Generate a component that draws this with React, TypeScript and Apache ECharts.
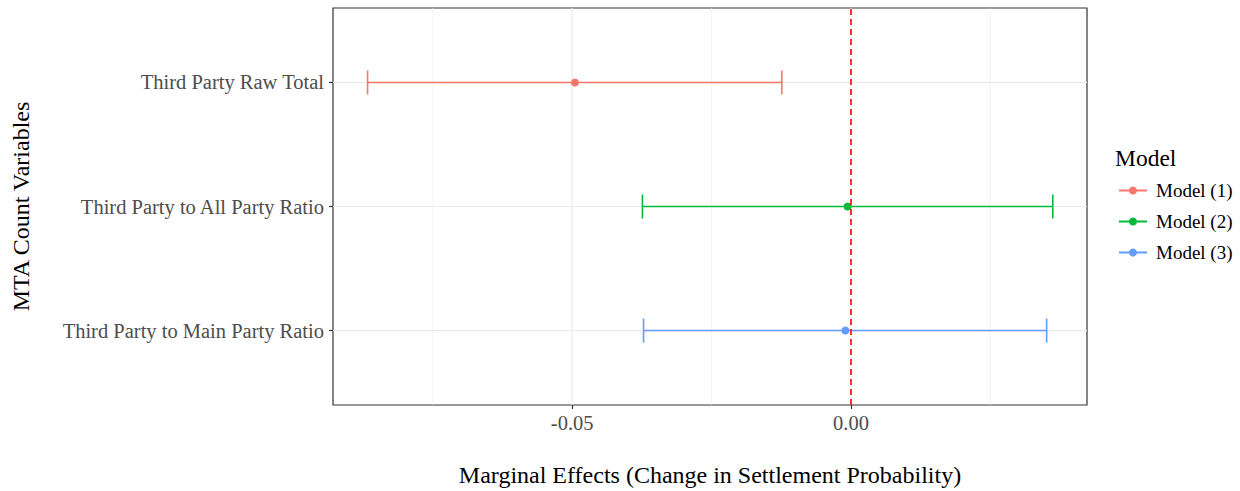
import React, { useEffect, useRef } from "react";
import * as echarts from "echarts";

const categories = [
  "Third Party to Main Party Ratio",
  "Third Party to All Party Ratio",
  "Third Party Raw Total",
];
const models = ["Model (1)", "Model (2)", "Model (3)"];
const modelRow = [3, 2, 1];
const estimates = [-0.0495, -0.0006, -0.001];
const lower = [-0.0867, -0.0374, -0.0372];
const upper = [-0.0124, 0.0362, 0.0351];
const colors = ["#F8766D", "#00BA38", "#619CFF"];
const xMajorTicks = [-0.05, 0];
const xMinorTicks = [-0.075, -0.025, 0.025];
const yTicks = [1, 2, 3];

const FONT = "'Liberation Serif', 'Times New Roman', serif";

export default function App() {
  const ref = useRef<HTMLDivElement>(null);
  useEffect(() => {
    document.body.style.margin = "0";
    const chart = echarts.init(ref.current!, null, { renderer: "svg" });

    const gridData: number[][] = [
      ...xMinorTicks.map((v) => [0, v, 0]),
      ...xMajorTicks.map((v) => [0, v, 1]),
      ...yTicks.map((v) => [1, v, 1]),
    ];

    const series: any[] = [
      {
        type: "custom",
        name: "grid",
        silent: true,
        z: 0,
        data: gridData,
        renderItem: (params: any, api: any) => {
          const cs = params.coordSys;
          const orient = api.value(0);
          const v = api.value(1);
          const major = api.value(2);
          const style = { stroke: "#EBEBEB", lineWidth: major ? 1.2 : 0.6 };
          if (orient === 0) {
            const p = api.coord([v, 2]);
            return { type: "line", shape: { x1: p[0], y1: cs.y, x2: p[0], y2: cs.y + cs.height }, style };
          }
          const p = api.coord([0, v]);
          return { type: "line", shape: { x1: cs.x, y1: p[1], x2: cs.x + cs.width, y2: p[1] }, style };
        },
      },
    ];

    models.forEach((m, i) => {
      series.push({
        type: "custom",
        name: m + " ci",
        z: 2,
        silent: true,
        data: [[lower[i], upper[i], modelRow[i]]],
        renderItem: (params: any, api: any) => {
          const y = api.value(2);
          const p1 = api.coord([api.value(0), y]);
          const p2 = api.coord([api.value(1), y]);
          const h = 12;
          const style = { stroke: colors[i], lineWidth: 1.6 };
          return {
            type: "group",
            children: [
              { type: "line", shape: { x1: p1[0], y1: p1[1], x2: p2[0], y2: p2[1] }, style },
              { type: "line", shape: { x1: p1[0], y1: p1[1] - h, x2: p1[0], y2: p1[1] + h }, style },
              { type: "line", shape: { x1: p2[0], y1: p2[1] - h, x2: p2[0], y2: p2[1] + h }, style },
            ],
          };
        },
      });
    });

    series.push({
      type: "line",
      name: "zero",
      data: [],
      silent: true,
      z: 3,
      markLine: {
        silent: true,
        symbol: "none",
        label: { show: false },
        lineStyle: { color: "#FF0000", type: [6, 4], width: 1.6 },
        data: [{ xAxis: 0 }],
      },
    });

    models.forEach((m, i) => {
      series.push({
        type: "line",
        name: m,
        z: 4,
        data: [[estimates[i], modelRow[i]]],
        symbol: "circle",
        symbolSize: 8,
        itemStyle: { color: colors[i] },
        lineStyle: { color: colors[i], width: 1.6 },
      });
    });

    chart.setOption({
      animation: false,
      grid: {
        left: 333,
        right: 153,
        top: 8,
        bottom: 86,
        show: true,
        outerBoundsMode: "none",
        containLabel: false,
        borderColor: "#333333",
        borderWidth: 1.2,
        backgroundColor: "transparent",
      },
      xAxis: {
        type: "value",
        min: -0.0929,
        max: 0.04234,
        name: "Marginal Effects (Change in Settlement Probability)",
        nameLocation: "middle",
        nameGap: 58,
        nameTextStyle: { fontFamily: FONT, fontSize: 24, color: "#000" },
        axisLine: { show: false, onZero: false },
        splitLine: { show: false },
        axisTick: { show: true, length: 4, customValues: xMajorTicks, lineStyle: { color: "#333333", width: 1.2 } },
        axisLabel: {
          customValues: xMajorTicks,
          formatter: (v: number) => v.toFixed(2),
          fontFamily: FONT,
          fontSize: 20.5,
          color: "#4D4D4D",
          margin: 7,
        },
      },
      yAxis: {
        type: "value",
        min: 0.4,
        max: 3.6,
        name: "MTA Count Variables",
        nameLocation: "middle",
        nameGap: 300,
        nameRotate: 90,
        nameTextStyle: { fontFamily: FONT, fontSize: 24, color: "#000" },
        axisLine: { show: false, onZero: false },
        splitLine: { show: false },
        axisTick: { show: true, length: 4, customValues: yTicks, lineStyle: { color: "#333333", width: 1.2 } },
        axisLabel: {
          customValues: yTicks,
          formatter: (v: number) => categories[Math.round(v) - 1] ?? "",
          fontFamily: FONT,
          fontSize: 20.5,
          color: "#4D4D4D",
          margin: 9,
        },
      },
      title: {
        text: "Model",
        left: 1110,
        top: 141,
        textStyle: { fontFamily: FONT, fontSize: 23.5, fontWeight: "normal", color: "#000" },
      },
      legend: {
        data: models,
        orient: "vertical",
        left: 1113,
        top: 176,
        itemWidth: 28,
        itemHeight: 10,
        itemGap: 12,
        textStyle: { fontFamily: FONT, fontSize: 19, color: "#000", padding: [0, 0, 0, 4] },
        selectedMode: false,
      },
      series,
    });
    return () => chart.dispose();
  }, []);
  return <div ref={ref} style={{ position: "absolute", left: 0, top: 0, width: 1240, height: 491 }} />;
}
